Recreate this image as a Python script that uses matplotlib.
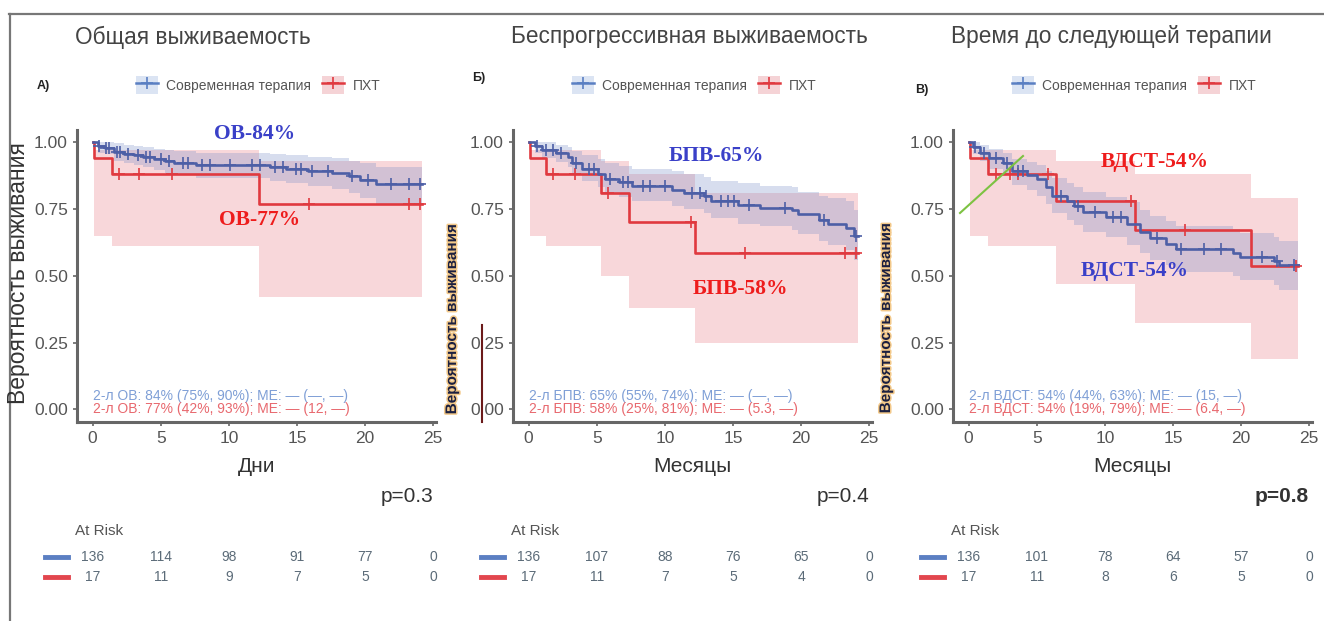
import numpy as np
import matplotlib.pyplot as plt
import matplotlib.transforms as mtransforms
import matplotlib.patheffects as pe
from matplotlib.lines import Line2D
from matplotlib.patches import Patch

plt.rcParams['font.family'] = ['Liberation Sans', 'DejaVu Sans']

W, H = 1324, 621

# ---- data ----
titles = ['Общая выживаемость', 'Беспрогрессивная выживаемость', 'Время до следующей терапии']
panel_tags = ['А)', 'Б)', 'В)']
xlabels = ['Дни', 'Месяцы', 'Месяцы']
pvalues = ['p=0.3', 'p=0.4', 'p=0.8']
group_names = ['Современная терапия', 'ПХТ']
risk_times = [0, 5, 10, 15, 20, 25]

# overall survival
os_blue_t = [0, 0.4, 0.9, 1.6, 2.3, 3.0, 3.7, 4.5, 5.3, 6.0, 7.6, 13.0, 14.2, 15.8, 17.6, 18.8, 19.6, 20.8, 24.2]
os_blue_s = [1.0, 0.985, 0.978, 0.964, 0.957, 0.95, 0.943, 0.935, 0.928, 0.921, 0.914, 0.907, 0.9, 0.893, 0.885, 0.872, 0.858, 0.842, 0.842]
os_blue_lo = [1.0, 0.96, 0.955, 0.93, 0.92, 0.915, 0.905, 0.895, 0.885, 0.875, 0.865, 0.855, 0.845, 0.835, 0.825, 0.81, 0.79, 0.765, 0.765]
os_blue_hi = [1.0, 1.0, 1.0, 0.995, 0.99, 0.985, 0.98, 0.975, 0.97, 0.965, 0.96, 0.955, 0.95, 0.945, 0.94, 0.93, 0.92, 0.905, 0.905]
os_blue_cens = [0.5, 1.0, 1.2, 1.8, 2.0, 2.6, 3.3, 3.9, 4.2, 5.0, 5.6, 6.6, 7.0, 8.0, 8.6, 10.1, 11.7,
                12.3, 13.4, 14.0, 14.9, 15.3, 16.1, 17.3, 19.0, 20.2, 21.9, 23.2, 24.0]
os_red_t = [0, 0.1, 1.4, 12.2, 24.2]
os_red_s = [1.0, 0.94, 0.88, 0.77, 0.77]
os_red_lo = [1.0, 0.65, 0.61, 0.42, 0.42]
os_red_hi = [1.0, 0.97, 0.97, 0.93, 0.93]
os_red_cens = [1.9, 3.4, 5.8, 15.9, 23.2, 24.0]
os_risk_blue = [136, 114, 98, 91, 77, 0]
os_risk_red = [17, 11, 9, 7, 5, 0]
os_note_blue = '2-л ОВ: 84% (75%, 90%); МЕ: — (—, —)'
os_note_red = '2-л ОВ: 77% (42%, 93%); МЕ: — (12, —)'

# progression-free survival
pfs_blue_t = [0, 0.5, 1.0, 2.0, 2.9, 3.2, 3.9, 5.1, 5.6, 6.6, 7.6, 10.5, 11.4, 12.9, 13.4, 15.4, 17.0, 19.3, 19.8, 21.3, 22.0, 23.3, 23.9, 24.2]
pfs_blue_s = [1.0, 0.985, 0.97, 0.96, 0.945, 0.92, 0.9, 0.88, 0.86, 0.85, 0.835, 0.82, 0.81, 0.8, 0.78, 0.765, 0.755, 0.745, 0.73, 0.71, 0.695, 0.68, 0.65, 0.65]
pfs_blue_lo = [1.0, 0.96, 0.94, 0.925, 0.905, 0.875, 0.855, 0.83, 0.81, 0.795, 0.78, 0.76, 0.75, 0.735, 0.715, 0.695, 0.685, 0.67, 0.655, 0.63, 0.615, 0.595, 0.56, 0.56]
pfs_blue_hi = [1.0, 1.0, 1.0, 0.99, 0.98, 0.965, 0.95, 0.935, 0.92, 0.91, 0.9, 0.89, 0.88, 0.87, 0.855, 0.845, 0.835, 0.83, 0.815, 0.8, 0.79, 0.78, 0.745, 0.745]
pfs_blue_cens = [0.6, 1.3, 1.8, 2.4, 3.5, 4.4, 4.8, 6.0, 6.9, 7.3, 8.4, 8.9, 10.0, 12.0, 12.6, 13.0,
                 14.1, 14.6, 15.1, 16.2, 18.8, 21.7, 24.0]
pfs_red_t = [0, 0.1, 1.3, 5.3, 7.35, 12.2, 24.2]
pfs_red_s = [1.0, 0.94, 0.88, 0.81, 0.70, 0.585, 0.585]
pfs_red_lo = [1.0, 0.65, 0.61, 0.50, 0.38, 0.25, 0.25]
pfs_red_hi = [1.0, 0.97, 0.97, 0.93, 0.88, 0.81, 0.81]
pfs_red_cens = [1.8, 3.4, 5.8, 11.9, 15.9, 23.2, 24.0]
pfs_risk_blue = [136, 107, 88, 76, 65, 0]
pfs_risk_red = [17, 11, 7, 5, 4, 0]
pfs_note_blue = '2-л БПВ: 65% (55%, 74%); МЕ: — (—, —)'
pfs_note_red = '2-л БПВ: 58% (25%, 81%); МЕ: — (5.3, —)'

# time to next therapy
ttnt_blue_t = [0, 0.3, 0.8, 1.5, 2.5, 3.2, 4.3, 5.0, 5.7, 6.1, 7.2, 7.7, 8.4, 10.1, 11.6, 12.6, 13.3, 14.5, 15.2, 19.4, 19.9, 22.4, 22.8, 24.2]
ttnt_blue_s = [1.0, 0.98, 0.96, 0.94, 0.92, 0.89, 0.875, 0.86, 0.83, 0.8, 0.78, 0.76, 0.74, 0.72, 0.695, 0.665, 0.64, 0.62, 0.6, 0.585, 0.57, 0.555, 0.54, 0.54]
ttnt_blue_lo = [1.0, 0.955, 0.93, 0.9, 0.875, 0.84, 0.82, 0.8, 0.77, 0.735, 0.71, 0.69, 0.665, 0.645, 0.615, 0.585, 0.56, 0.54, 0.515, 0.5, 0.485, 0.465, 0.445, 0.445]
ttnt_blue_hi = [1.0, 1.0, 0.99, 0.975, 0.96, 0.935, 0.925, 0.915, 0.89, 0.865, 0.845, 0.83, 0.815, 0.795, 0.775, 0.745, 0.725, 0.705, 0.685, 0.675, 0.66, 0.645, 0.63, 0.63]
ttnt_blue_cens = [0.5, 1.1, 2.0, 2.8, 3.6, 4.0, 6.8, 8.0, 9.3, 10.6, 11.2, 13.8, 15.6, 17.3, 18.5, 21.5, 22.6, 23.9]
ttnt_red_t = [0, 0.1, 1.4, 6.4, 12.2, 20.7, 24.2]
ttnt_red_s = [1.0, 0.94, 0.88, 0.78, 0.67, 0.535, 0.535]
ttnt_red_lo = [1.0, 0.65, 0.61, 0.47, 0.325, 0.19, 0.19]
ttnt_red_hi = [1.0, 0.97, 0.97, 0.93, 0.88, 0.79, 0.79]
ttnt_red_cens = [2.0, 3.0, 3.6, 5.8, 11.9, 15.9, 24.0]
ttnt_risk_blue = [136, 101, 78, 64, 57, 0]
ttnt_risk_red = [17, 11, 8, 6, 5, 0]
ttnt_note_blue = '2-л ВДСТ: 54% (44%, 63%); МЕ: — (15, —)'
ttnt_note_red = '2-л ВДСТ: 54% (19%, 79%); МЕ: — (6.4, —)'

# big hand-written labels on the plots
big_labels = [
    [('ОВ-84%', 'blue', 255, 134), ('ОВ-77%', 'red', 260, 220)],
    [('БПВ-65%', 'blue', 716, 156), ('БПВ-58%', 'red', 740, 289)],
    [('ВДСТ-54%', 'red', 1155, 162), ('ВДСТ-54%', 'blue', 1135, 271)],
]

BLUE = '#4d5fa6'
BLUE_KEY = '#5a7fc2'
RED = '#e0393f'
BAND_BLUE = '#7d8fc8'
BAND_RED = '#e8707a'
ANN = {'blue': '#3a40c8', 'red': '#ee1c1c'}
GREY = '#444444'


def fx(px):
    return px / W


def fy(py):
    return 1 - py / H


def step_at(ts, ss, t):
    i = np.searchsorted(ts, t, side='right') - 1
    return np.asarray(ss)[i]


fig = plt.figure(figsize=(W / 100, H / 100), dpi=100)

# outer frame
fig.add_artist(Line2D([fx(9), 1], [fy(14), fy(14)], color='#777777', lw=1.6))
fig.add_artist(Line2D([fx(10), fx(10)], [0, fy(14)], color='#777777', lw=1.6))

panels = [
    (os_blue_t, os_blue_s, os_blue_lo, os_blue_hi, os_blue_cens,
     os_red_t, os_red_s, os_red_lo, os_red_hi, os_red_cens,
     os_risk_blue, os_risk_red, os_note_blue, os_note_red),
    (pfs_blue_t, pfs_blue_s, pfs_blue_lo, pfs_blue_hi, pfs_blue_cens,
     pfs_red_t, pfs_red_s, pfs_red_lo, pfs_red_hi, pfs_red_cens,
     pfs_risk_blue, pfs_risk_red, pfs_note_blue, pfs_note_red),
    (ttnt_blue_t, ttnt_blue_s, ttnt_blue_lo, ttnt_blue_hi, ttnt_blue_cens,
     ttnt_red_t, ttnt_red_s, ttnt_red_lo, ttnt_red_hi, ttnt_red_cens,
     ttnt_risk_blue, ttnt_risk_red, ttnt_note_blue, ttnt_note_red),
]

ax_left = [77, 513, 953]
ax_w = 359

for k, p in enumerate(panels):
    (bt, bs, blo, bhi, bc, rt, rs, rlo, rhi, rc, rb, rr, nb, nr) = p
    left = ax_left[k]
    ax = fig.add_axes([fx(left), fy(422), ax_w / W, (422 - 130) / H])

    ax.fill_between(rt, rlo, rhi, step='post', color=BAND_RED, alpha=0.28, lw=0)
    ax.fill_between(bt, blo, bhi, step='post', color=BAND_BLUE, alpha=0.3, lw=0)
    ax.step(rt, rs, where='post', color=RED, lw=1.9)
    ax.step(bt, bs, where='post', color=BLUE, lw=1.9)
    ax.plot(rc, step_at(rt, rs, rc), ls='none', marker='+', ms=8, mew=1.2, color=RED)
    ax.plot(bc, step_at(bt, bs, bc), ls='none', marker='+', ms=8, mew=1.2, color=BLUE)

    ax.text(0, 0.05, nb, color='#7f9fd6', fontsize=10, va='center', ha='left')
    ax.text(0, 0.0, nr, color='#e8686e', fontsize=10, va='center', ha='left')

    ax.set_xlim(-1.15, 25.2)
    ax.set_ylim(-0.047, 1.045)
    ax.set_xticks(risk_times)
    ax.set_yticks([0, 0.25, 0.5, 0.75, 1.0])
    ax.set_yticklabels(['0.00', '0.25', '0.50', '0.75', '1.00'])
    ax.tick_params(colors='#666666', labelcolor='#555555', labelsize=12.5, length=3, width=1.2)
    for s in ['top', 'right']:
        ax.spines[s].set_visible(False)
    for s in ['left', 'bottom']:
        ax.spines[s].set_color('#666666')
        ax.spines[s].set_linewidth(2.2)
    ax.set_xlabel(xlabels[k], fontsize=15, color='#333333', labelpad=8)

    # title, tag, p-value
    fig.text(fx(left - 2), fy(37), titles[k], fontsize=16.3, color=GREY, ha='left', va='center')
    fig.text(fx(left + 356), fy(497), pvalues[k], fontsize=15, color='#333333', ha='right', va='center',
             fontweight='bold' if k == 2 else 'normal')

    # legend
    handles = [(Patch(facecolor='#dbe4f3', edgecolor='none'),
                Line2D([], [], color=BLUE_KEY, marker='+', ms=9, mew=1.2, lw=1.8)),
               (Patch(facecolor='#f5d3d6', edgecolor='none'),
                Line2D([], [], color=RED, marker='+', ms=9, mew=1.2, lw=1.8))]
    fig.legend(handles, group_names, loc='center left', bbox_to_anchor=(fx(left + 46), fy(85)),
               ncol=2, frameon=False, fontsize=10, labelcolor='#555555', handlelength=1.6,
               handleheight=1.6, columnspacing=0.8, handletextpad=0.6)

    # risk table
    fig.text(fx(left - 2), fy(531), 'At Risk', fontsize=11, color='#555555', ha='left', va='center')
    tr = mtransforms.blended_transform_factory(ax.transData, fig.transFigure)
    for j, t in enumerate(risk_times):
        fig.text(t, fy(557), str(rb[j]), transform=tr, fontsize=10, color='#5b6b78', ha='center', va='center')
        fig.text(t, fy(577), str(rr[j]), transform=tr, fontsize=10, color='#5b6b78', ha='center', va='center')
    fig.add_artist(Line2D([fx(left - 32), fx(left - 9)], [fy(557), fy(557)], color='#5b7fc2', lw=3.5))
    fig.add_artist(Line2D([fx(left - 32), fx(left - 9)], [fy(577), fy(577)], color='#e2464e', lw=3.5))

    for txt, c, x, y in big_labels[k]:
        fig.text(fx(x), fy(y), txt, family=['Liberation Serif', 'DejaVu Serif'], fontweight='bold',
                 fontsize=15.5, color=ANN[c], ha='center', va='center')

# panel tags
fig.text(fx(37), fy(86), panel_tags[0], fontsize=9, fontweight='bold', color='#222222', va='center')
fig.text(fx(472), fy(78), panel_tags[1], fontsize=9, fontweight='bold', color='#222222', va='center')
fig.text(fx(915), fy(90), panel_tags[2], fontsize=9, fontweight='bold', color='#222222', va='center')

# y labels
ylab = 'Вероятность выживания'
fig.text(fx(19), fy(273), ylab, rotation=90, fontsize=16.5, color='#333333', ha='center', va='center')
glow = [pe.withStroke(linewidth=2.2, foreground='#f3c98a')]
fig.text(fx(452), fy(319), ylab, rotation=90, fontsize=11, fontweight='bold', color='#1c2040',
         ha='center', va='center', path_effects=glow)
fig.text(fx(886), fy(318), ylab, rotation=90, fontsize=11, fontweight='bold', color='#1c2040',
         ha='center', va='center', path_effects=glow)

# stray marks in the original image
fig.add_artist(Line2D([fx(482), fx(482)], [fy(325), fy(422)], color='#6b1a1a', lw=1.5))
fig.add_artist(Line2D([fx(960), fx(1023)], [fy(213), fy(156)], color='#7dc242', lw=1.5))

fig.savefig('out.png', dpi=100)
